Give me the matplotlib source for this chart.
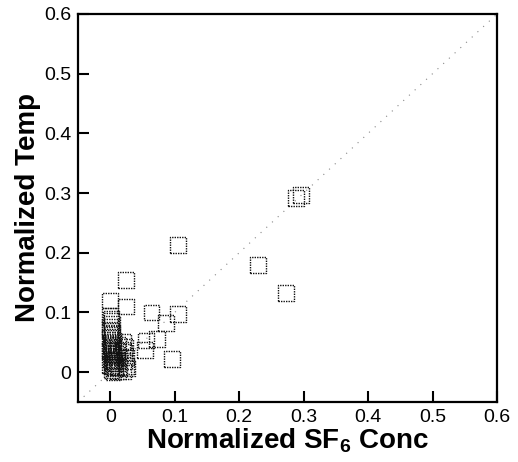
import matplotlib
matplotlib.use("Agg")
import matplotlib.pyplot as plt

plt.rcParams['font.family'] = ['Liberation Sans', 'DejaVu Sans']
plt.rcParams['mathtext.fontset'] = 'custom'
plt.rcParams['mathtext.rm'] = 'Liberation Sans'
plt.rcParams['mathtext.bf'] = 'Liberation Sans:bold'

# normalized SF6 concentration vs normalized temperature
sf6 = [0.105, 0.025, 0.000, 0.025, 0.064, 0.105, 0.087, 0.072, 0.056, 0.054,
       0.096, 0.229, 0.273, 0.288, 0.296,
       0.000, 0.002, 0.000, 0.003, 0.000, 0.004, 0.001, 0.005, 0.000, 0.003,
       0.006, 0.001, 0.004, 0.000, 0.007, 0.002, 0.005,
       0.001, 0.003, 0.000, 0.002, 0.004, 0.001, 0.003, 0.000, 0.002, 0.005,
       0.006, 0.004, 0.002, 0.007,
       0.012, 0.010, 0.013, 0.011, 0.014, 0.012, 0.009, 0.011,
       0.020, 0.023, 0.021, 0.024, 0.022, 0.025, 0.020, 0.018, 0.026]
temp = [0.213, 0.155, 0.120, 0.110, 0.100, 0.098, 0.082, 0.055, 0.053, 0.037,
        0.022, 0.180, 0.132, 0.292, 0.297,
        0.095, 0.085, 0.075, 0.065, 0.058, 0.050, 0.045, 0.040, 0.035, 0.030,
        0.026, 0.022, 0.018, 0.012, 0.008, 0.004, 0.000,
        0.090, 0.080, 0.070, 0.062, 0.054, 0.047, 0.042, 0.038, 0.033, 0.028,
        0.020, 0.015, 0.010, 0.006,
        0.045, 0.035, 0.025, 0.015, 0.008, 0.002, 0.030, 0.020,
        0.050, 0.042, 0.034, 0.026, 0.018, 0.010, 0.002, 0.038, 0.006]

ticks = [0, 0.1, 0.2, 0.3, 0.4, 0.5, 0.6]
tick_labels = ['0', '0.1', '0.2', '0.3', '0.4', '0.5', '0.6']

fig = plt.figure(figsize=(5.18, 4.62), dpi=100)
ax = fig.add_axes([0.1506, 0.1299, 0.8089, 0.8398])

# 1:1 reference line
ax.plot([-0.05, 0.6], [-0.05, 0.6], color='#888888', lw=0.8,
        linestyle=(0, (1, 6)), zorder=1)

ax.scatter(sf6, temp, marker='s', s=130, facecolors='none',
           edgecolors='#111111', linewidths=1.0, linestyle=(0, (1, 0.8)),
           zorder=2)

ax.set_xlim(-0.05, 0.6)
ax.set_ylim(-0.05, 0.6)
ax.set_xticks(ticks)
ax.set_xticklabels(tick_labels)
ax.set_yticks(ticks)
ax.set_yticklabels(tick_labels)

ax.tick_params(direction='in', length=8, width=1.5, labelsize=14,
               top=False, right=False, pad=5)
for sp in ax.spines.values():
    sp.set_linewidth(1.6)

ax.set_xlabel(r'Normalized SF$_\mathbf{6}$ Conc', fontsize=20,
              fontweight='bold', labelpad=0)
ax.set_ylabel('Normalized Temp', fontsize=20, fontweight='bold', labelpad=2)

fig.savefig('out.png', dpi=100)
